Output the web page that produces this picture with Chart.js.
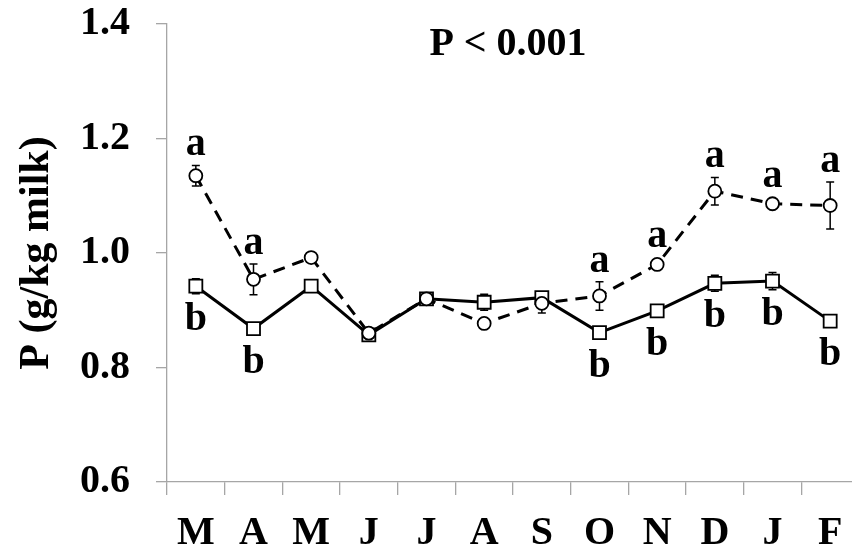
<!DOCTYPE html>
<html>
<head>
<meta charset="utf-8">
<script src="https://cdn.jsdelivr.net/npm/chart.js@4.4.1/dist/chart.umd.min.js"></script>
<style>
html, body { margin: 0; padding: 0; background: #fff; overflow: hidden; }
</style>
</head>
<body>
<canvas id="grafico" width="870" height="552"></canvas>
<script>
// Dados
const meses = ['M', 'A', 'M', 'J', 'J', 'A', 'S', 'O', 'N', 'D', 'J', 'F'];
const yTicks = [0.6, 0.8, 1.0, 1.2, 1.4];

// série tracejada (círculos)
const circulo = [1.135, 0.954, 0.992, 0.860, 0.920, 0.877, 0.912, 0.925, 0.980, 1.108, 1.086, 1.083];
const errCirculo = [0.018, 0.027, 0.008, 0, 0, 0, 0.017, 0.025, 0.005, 0.024, 0.004, 0.041];
const letrasCirculo = ['a', 'a', '', '', '', '', '', 'a', 'a', 'a', 'a', 'a'];

// série contínua (quadrados)
const quadrado = [0.942, 0.868, 0.942, 0.857, 0.920, 0.914, 0.922, 0.861, 0.899, 0.947, 0.951, 0.881];
const errQuadrado = [0.013, 0.006, 0.006, 0.006, 0.006, 0.014, 0.008, 0.006, 0.006, 0.014, 0.015, 0.006];
const letrasQuadrado = ['b', 'b', '', '', '', '', '', 'b', 'b', 'b', 'b', 'b'];

const textoP = 'P < 0.001';
const FONTE = '"Liberation Serif", "Times New Roman", serif';
const CINZA = '#a6a6a6';

// Barras de erro (desenhadas antes das linhas)
const barrasErro = {
    id: 'barrasErro',
    beforeDatasetsDraw(chart) {
        const { ctx, scales: { x, y } } = chart;
        const series = [[circulo, errCirculo], [quadrado, errQuadrado]];
        ctx.save();
        ctx.strokeStyle = '#000';
        ctx.lineWidth = 1.5;
        series.forEach(([vals, errs]) => {
            vals.forEach((v, i) => {
                if (!errs[i]) return;
                const px = x.getPixelForValue(i);
                const y1 = y.getPixelForValue(v + errs[i]);
                const y2 = y.getPixelForValue(v - errs[i]);
                ctx.beginPath();
                ctx.moveTo(px, y1); ctx.lineTo(px, y2);
                ctx.moveTo(px - 4, y1); ctx.lineTo(px + 4, y1);
                ctx.moveTo(px - 4, y2); ctx.lineTo(px + 4, y2);
                ctx.stroke();
            });
        });
        ctx.restore();
    }
};

// Letras de significância e texto do P
const letras = {
    id: 'letras',
    afterDatasetsDraw(chart) {
        const { ctx, chartArea, scales: { x, y } } = chart;
        ctx.save();
        ctx.fillStyle = '#000';
        ctx.font = 'bold 40px ' + FONTE;
        ctx.textAlign = 'center';
        ctx.textBaseline = 'alphabetic';
        letrasCirculo.forEach((l, i) => {
            if (!l) return;
            const topo = Math.min(y.getPixelForValue(circulo[i] + errCirculo[i]), y.getPixelForValue(circulo[i]) - 7);
            ctx.fillText(l, x.getPixelForValue(i), topo - 10);
        });
        letrasQuadrado.forEach((l, i) => {
            if (!l) return;
            ctx.fillText(l, x.getPixelForValue(i), y.getPixelForValue(quadrado[i]) + 44);
        });
        ctx.fillText(textoP, (chartArea.left + chartArea.right) / 2 - 5, chartArea.top + 31);
        ctx.restore();
    }
};

new Chart(document.getElementById('grafico'), {
    type: 'line',
    data: {
        labels: meses,
        datasets: [
            {
                data: circulo,
                borderColor: '#000',
                borderWidth: 3,
                borderDash: [12, 8],
                pointStyle: 'circle',
                pointRadius: 6.5,
                pointBorderWidth: 1.8,
                pointBorderColor: '#000',
                pointBackgroundColor: '#fff',
                tension: 0,
                order: 1
            },
            {
                data: quadrado,
                borderColor: '#000',
                borderWidth: 3,
                pointStyle: 'rect',
                pointRadius: 9.2,
                pointBorderWidth: 1.8,
                pointBorderColor: '#000',
                pointBackgroundColor: '#fff',
                tension: 0,
                order: 2
            }
        ]
    },
    options: {
        responsive: false,
        animation: false,
        layout: { padding: { top: 24, right: 5, left: 0, bottom: 0 } },
        plugins: {
            legend: { display: false },
            tooltip: { enabled: false }
        },
        scales: {
            x: {
                offset: true,
                grid: { offset: true, drawOnChartArea: false, color: CINZA, lineWidth: 1.3, tickLength: 13 },
                border: { color: CINZA, width: 1.3 },
                ticks: {
                    color: '#000', padding: 15, maxRotation: 0, autoSkip: false,
                    font: { family: FONTE, size: 40, weight: 'bold' }
                },
                afterFit: s => { s.height = 70; }
            },
            y: {
                min: yTicks[0],
                max: yTicks[yTicks.length - 1],
                afterBuildTicks: s => { s.ticks = yTicks.map(v => ({ value: v })); },
                grid: { drawOnChartArea: false, color: CINZA, lineWidth: 1.3, tickLength: 11 },
                border: { color: CINZA, width: 1.3 },
                ticks: {
                    color: '#000', padding: 26,
                    callback: v => Number(v).toFixed(1),
                    font: { family: FONTE, size: 40, weight: 'bold' }
                },
                title: {
                    display: true,
                    text: 'P (g/kg milk)',
                    color: '#000',
                    padding: { top: 12, bottom: 0 },
                    font: { family: FONTE, size: 42, weight: 'bold' }
                },
                afterFit: s => { s.width = 167; s.paddingTop = 0; s.paddingBottom = 0; }
            }
        }
    },
    plugins: [barrasErro, letras]
});
</script>
</body>
</html>
